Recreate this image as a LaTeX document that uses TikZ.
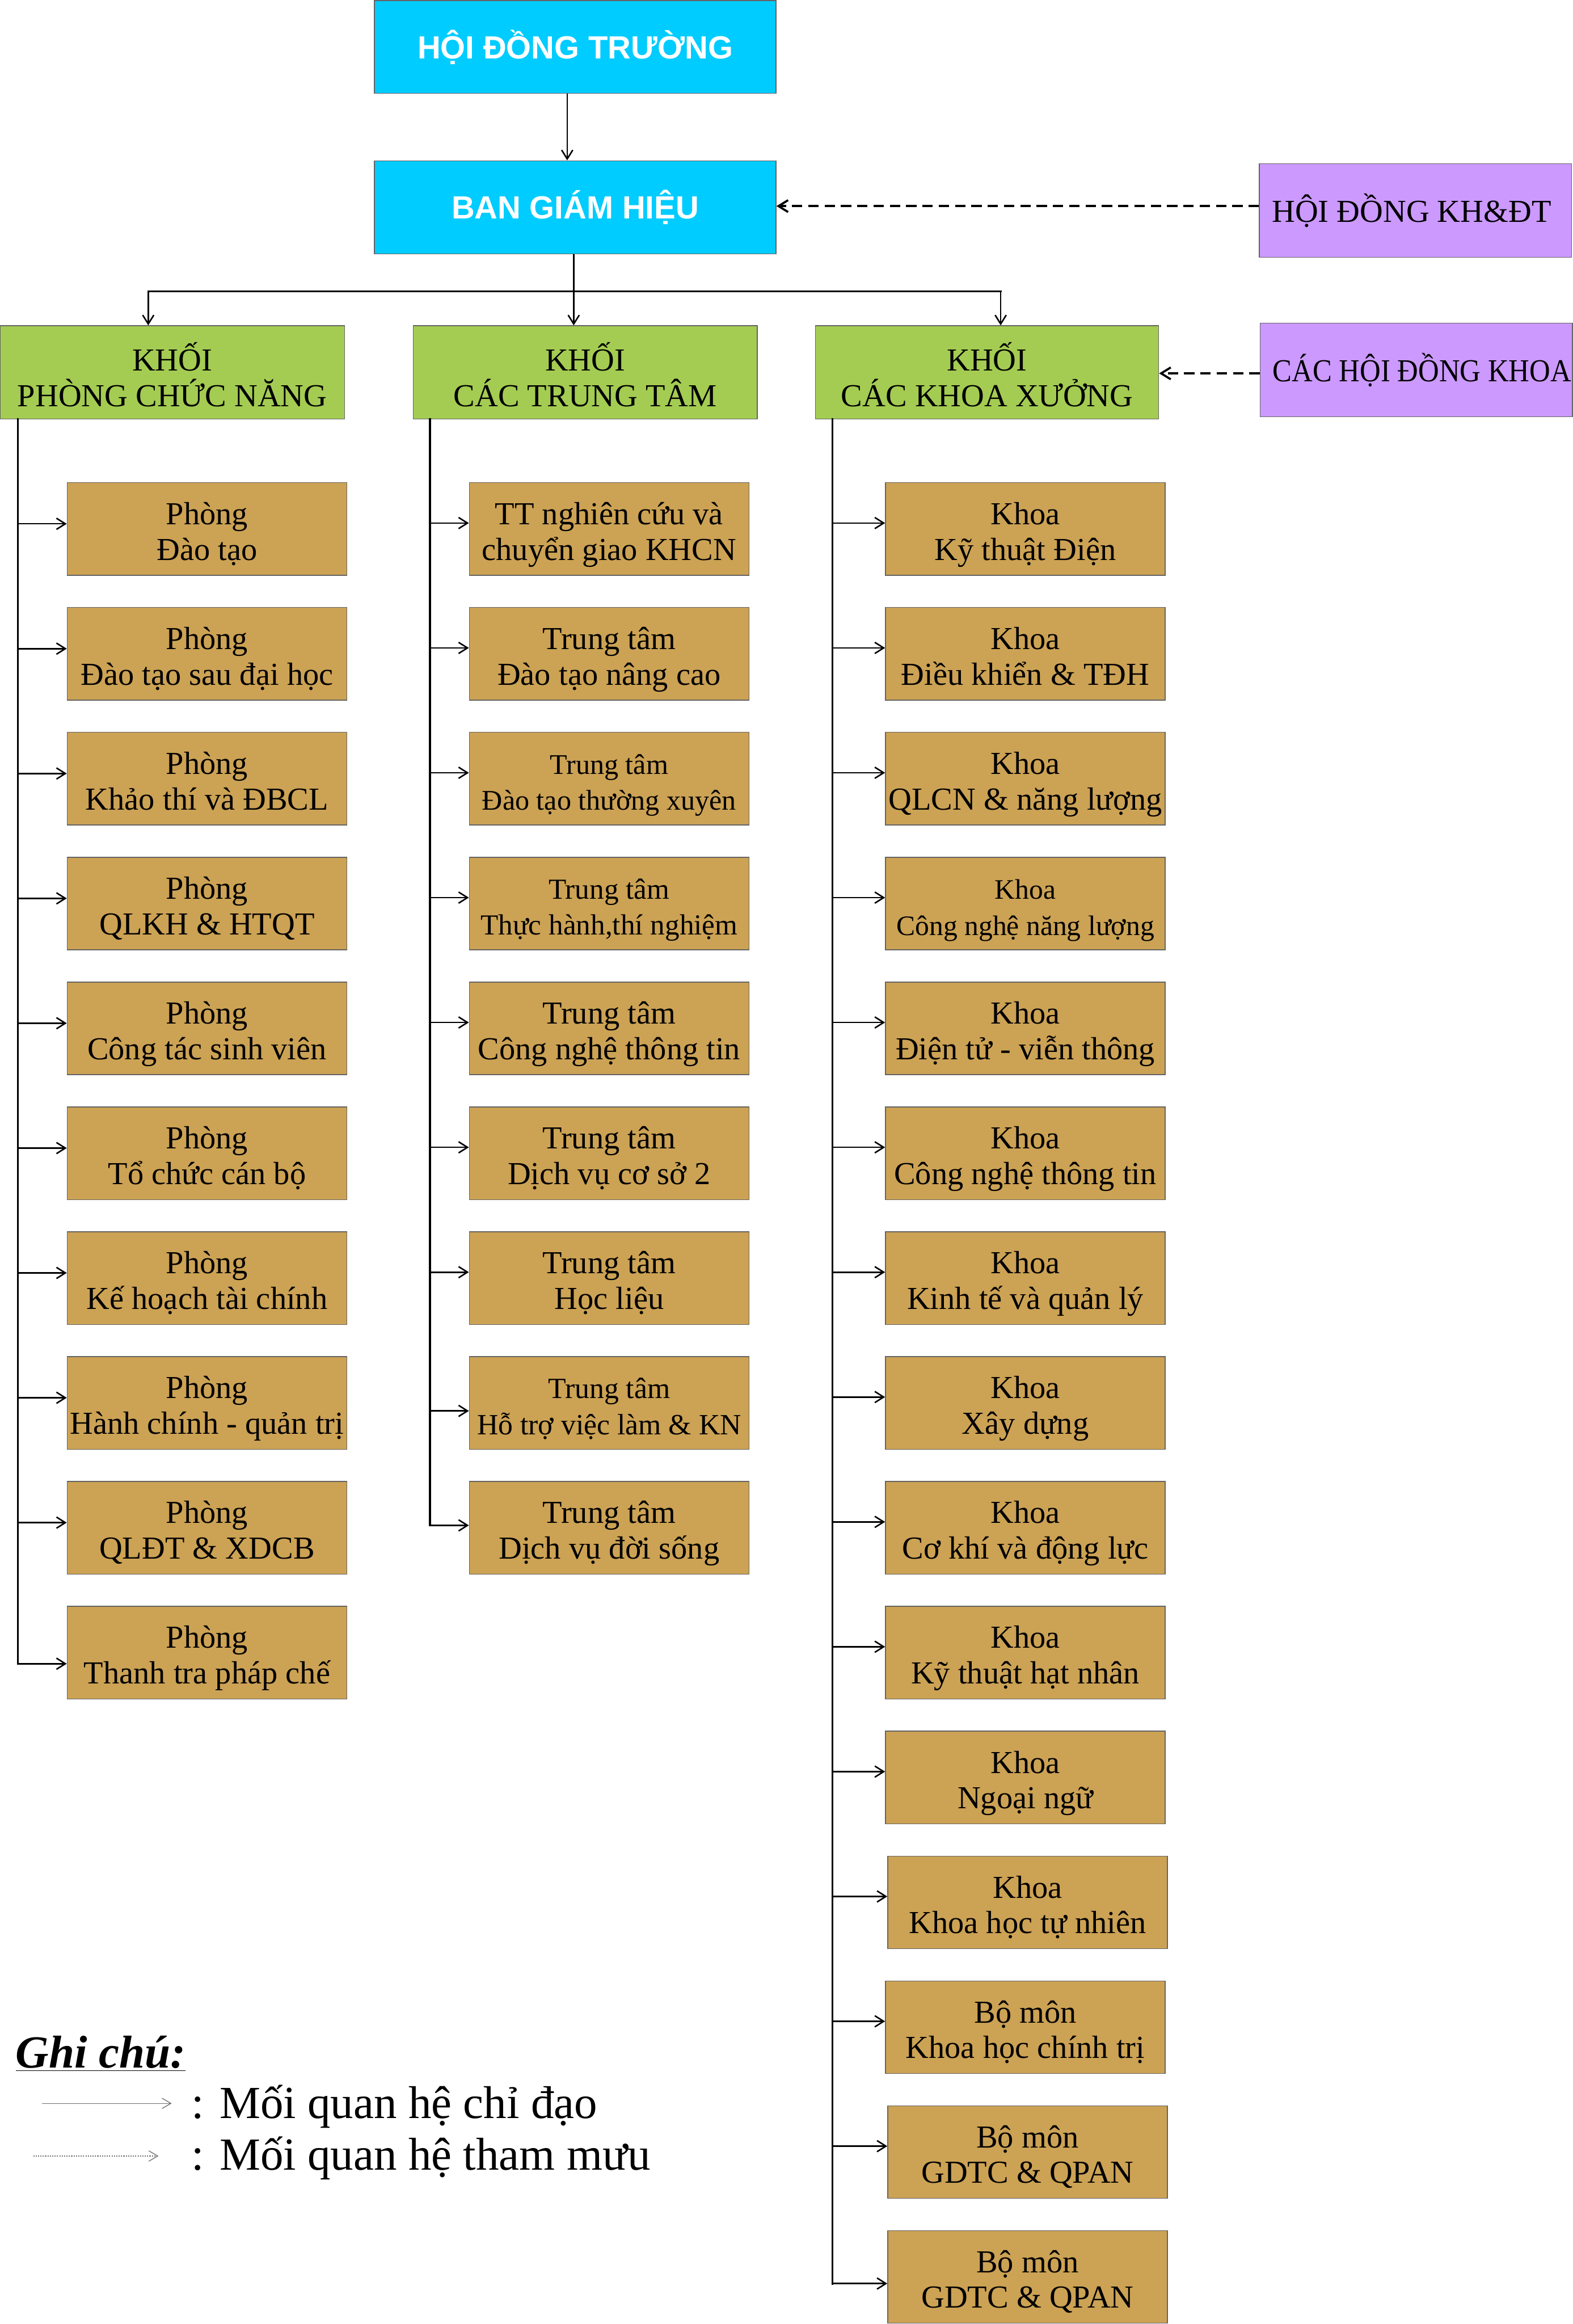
\documentclass[tikz,border=0pt]{standalone}
\usepackage{fontspec}
\setmainfont{Liberation Serif}
\setsansfont{Liberation Sans}
\usepackage{graphicx}
\usetikzlibrary{arrows.meta,calc}
\definecolor{cyanc}{RGB}{0,204,255}
\definecolor{greenc}{RGB}{164,204,82}
\definecolor{brownc}{RGB}{204,162,84}
\definecolor{purplec}{RGB}{204,153,255}
\definecolor{bordc}{RGB}{100,100,100}
\definecolor{legc}{RGB}{110,110,110}
\newcommand\brtext[2]{\rule{0pt}{24pt}#1\\#2\rule[-6pt]{0pt}{6pt}}
\newcommand\grtext[2]{\rule{0pt}{27.4pt}#1\\#2\rule[-5.4pt]{0pt}{5.4pt}}
\begin{document}
\begin{tikzpicture}[x=1pt,y=-1pt,
  boxbase/.style={rectangle, draw=bordc, line width=0.55pt, inner sep=0pt, align=center},
  cyanbox/.style={boxbase, fill=cyanc, minimum width=271pt, minimum height=62.7pt, text=white,
     font=\sffamily\bfseries\fontsize{21.6}{24}\selectfont},
  greenbox/.style={boxbase, fill=greenc, minimum width=232pt, minimum height=62.9pt,
     font=\fontsize{21.6}{24}\selectfont},
  brownbox/.style={boxbase, fill=brownc, minimum width=188.7pt, minimum height=62.5pt,
     font=\fontsize{21.6}{24}\selectfont},
  purplebox/.style={boxbase, fill=purplec, minimum width=210.6pt, minimum height=63pt,
     font=\fontsize{21.6}{24}\selectfont},
  trunk/.style={line width=1.4pt, line cap=rect},
  busline/.style={line width=1.4pt, line cap=rect},
  arr/.style={line width=1pt, -{Straight Barb[length=6pt,width=7.5pt]}},
  dasharr/.style={line width=1.4pt, dash pattern=on 7pt off 4pt, -{Straight Barb[length=6.5pt,width=8pt]}},
  legarr/.style={line width=0.5pt, draw=legc, -{Straight Barb[length=6pt,width=7pt]}},
  legtext/.style={anchor=base west, inner sep=0pt, font=\fontsize{31}{36}\selectfont}
]
\path[use as bounding box] (0,0) rectangle (1061,1567.3);

% top
\node[cyanbox] (hdt) at (388,31.7) {HỘI ĐỒNG TRƯỜNG};
\node[cyanbox, minimum height=62.9pt] (bgh) at (388,139.85) {BAN GIÁM HIỆU};
\node[purplebox] (hkh) at (954.8,142) {\makebox[193.6pt][l]{HỘI ĐỒNG KH\&ĐT}};
\node[purplebox] (hdk) at (955.3,249.5) {\makebox[193.6pt][l]{\scalebox{0.9}[1]{CÁC HỘI ĐỒNG KHOA}}};

% green
\node[greenbox, minimum width=232.4pt] (kpcn) at (116.2,251.15) {\grtext{KHỐI}{PHÒNG CHỨC NĂNG}};
\node[greenbox] (kctt) at (394.8,251.15) {\grtext{KHỐI}{CÁC TRUNG TÂM}};
\node[greenbox, minimum width=231.6pt] (kkx) at (665.8,251.15) {\grtext{KHỐI}{CÁC KHOA XƯỞNG}};

% top connectors
\coordinate (topx) at (382.6,0);
\draw[arr] (hdt.south -| topx) -- (bgh.north -| topx);
\coordinate (busL) at (100,196.5);
\coordinate (busM) at (387,196.5);
\coordinate (busR) at (675,196.5);
\draw[busline] (busL) -- (busR);
\draw[arr] (bgh.south -| busM) -- (busM |- kctt.north);
\draw[arr] (busL) -- (busL |- kpcn.north);
\draw[arr] (busR) -- (busR |- kkx.north);
\coordinate (d1) at (700,139);
\coordinate (d2) at (800,251.8);
\draw[dasharr] (hkh.west |- d1) -- (bgh.east |- d1);
\draw[dasharr] (hdk.west |- d2) -- (kkx.east |- d2);

% column 1
\node[brownbox] (p0) at (139.65,356.75) {\brtext{Phòng}{Đào tạo}};
\node[brownbox] (p1) at (139.65,440.95) {\brtext{Phòng}{Đào tạo sau đại học}};
\node[brownbox] (p2) at (139.65,525.15) {\brtext{Phòng}{Khảo thí và ĐBCL}};
\node[brownbox] (p3) at (139.65,609.35) {\brtext{Phòng}{QLKH \& HTQT}};
\node[brownbox] (p4) at (139.65,693.55) {\brtext{Phòng}{Công tác sinh viên}};
\node[brownbox] (p5) at (139.65,777.75) {\brtext{Phòng}{Tổ chức cán bộ}};
\node[brownbox] (p6) at (139.65,861.95) {\brtext{Phòng}{Kế hoạch tài chính}};
\node[brownbox] (p7) at (139.65,946.15) {\brtext{Phòng}{Hành chính - quản trị}};
\node[brownbox] (p8) at (139.65,1030.35) {\brtext{Phòng}{QLĐT \& XDCB}};
\node[brownbox] (p9) at (139.65,1114.55) {\brtext{Phòng}{Thanh tra pháp chế}};

\coordinate (a0) at (12,353.25);
\coordinate (a1) at (12,437.45);
\coordinate (a2) at (12,521.65);
\coordinate (a3) at (12,605.85);
\coordinate (a4) at (12,690.05);
\coordinate (a5) at (12,774.25);
\coordinate (a6) at (12,858.45);
\coordinate (a7) at (12,942.65);
\coordinate (a8) at (12,1026.85);
\coordinate (a9) at (12,1122);
\draw[trunk] (kpcn.south -| a0) -- (a9);
\foreach \i in {0,...,9} {\draw[arr] (a\i) -- (a\i -| p\i.west);}

% column 2
\node[brownbox] (t0) at (410.9,356.75) {\brtext{TT nghiên cứu và}{chuyển giao KHCN}};
\node[brownbox] (t1) at (410.9,440.95) {\brtext{Trung tâm}{Đào tạo nâng cao}};
\node[brownbox, font=\fontsize{19.2}{24}\selectfont] (t2) at (410.9,525.15) {\brtext{Trung tâm}{Đào tạo thường xuyên}};
\node[brownbox, font=\fontsize{19.6}{24}\selectfont] (t3) at (410.9,609.35) {\brtext{Trung tâm}{Thực hành,thí nghiệm}};
\node[brownbox] (t4) at (410.9,693.55) {\brtext{Trung tâm}{Công nghệ thông tin}};
\node[brownbox] (t5) at (410.9,777.75) {\brtext{Trung tâm}{Dịch vụ cơ sở 2}};
\node[brownbox] (t6) at (410.9,861.95) {\brtext{Trung tâm}{Học liệu}};
\node[brownbox, font=\fontsize{19.8}{24.5}\selectfont] (t7) at (410.9,946.15) {\brtext{Trung tâm}{Hỗ trợ việc làm \& KN}};
\node[brownbox] (t8) at (410.9,1030.35) {\brtext{Trung tâm}{Dịch vụ đời sống}};

\coordinate (b0) at (290,352.75);
\coordinate (b1) at (290,436.95);
\coordinate (b2) at (290,521.15);
\coordinate (b3) at (290,605.35);
\coordinate (b4) at (290,689.55);
\coordinate (b5) at (290,773.75);
\coordinate (b6) at (290,857.95);
\coordinate (b7) at (290,951.5);
\coordinate (b8) at (290,1028.7);
\draw[trunk] (kctt.south -| b0) -- (b8);
\foreach \i in {0,...,8} {\draw[arr] (b\i) -- (b\i -| t\i.west);}

% column 3
\node[brownbox] (k0) at (691.65,356.75) {\brtext{Khoa}{Kỹ thuật Điện}};
\node[brownbox] (k1) at (691.65,440.95) {\brtext{Khoa}{Điều khiển \& TĐH}};
\node[brownbox] (k2) at (691.65,525.15) {\brtext{Khoa}{QLCN \& năng lượng}};
\node[brownbox, font=\fontsize{19.0}{24.5}\selectfont] (k3) at (691.65,609.35) {\brtext{Khoa}{Công nghệ năng lượng}};
\node[brownbox] (k4) at (691.65,693.55) {\brtext{Khoa}{Điện tử - viễn thông}};
\node[brownbox] (k5) at (691.65,777.75) {\brtext{Khoa}{Công nghệ thông tin}};
\node[brownbox] (k6) at (691.65,861.95) {\brtext{Khoa}{Kinh tế và quản lý}};
\node[brownbox] (k7) at (691.65,946.15) {\brtext{Khoa}{Xây dựng}};
\node[brownbox] (k8) at (691.65,1030.35) {\brtext{Khoa}{Cơ khí và động lực}};
\node[brownbox] (k9) at (691.65,1114.55) {\brtext{Khoa}{Kỹ thuật hạt nhân}};
\node[brownbox] (k10) at (691.65,1198.75) {\brtext{Khoa}{Ngoại ngữ}};
\node[brownbox] (k11) at (693.15,1282.95) {\brtext{Khoa}{Khoa học tự nhiên}};
\node[brownbox] (k12) at (691.65,1367.15) {\brtext{Bộ môn}{Khoa học chính trị}};
\node[brownbox] (k13) at (693.15,1451.35) {\brtext{Bộ môn}{GDTC \& QPAN}};
\node[brownbox] (k14) at (693.15,1535.55) {\brtext{Bộ môn}{GDTC \& QPAN}};

\coordinate (c0) at (561.5,352.75);
\coordinate (c1) at (561.5,436.95);
\coordinate (c2) at (561.5,521.15);
\coordinate (c3) at (561.5,605.35);
\coordinate (c4) at (561.5,689.55);
\coordinate (c5) at (561.5,773.75);
\coordinate (c6) at (561.5,857.95);
\coordinate (c7) at (561.5,942.15);
\coordinate (c8) at (561.5,1026.35);
\coordinate (c9) at (561.5,1110.55);
\coordinate (c10) at (561.5,1194.75);
\coordinate (c11) at (561.5,1278.95);
\coordinate (c12) at (561.5,1363.15);
\coordinate (c13) at (561.5,1447.35);
\coordinate (c14) at (561.5,1540);
\draw[trunk] (kkx.south -| c0) -- (c14);
\foreach \i in {0,...,14} {\draw[arr] (c\i) -- (c\i -| k\i.west);}

% legend
\node[anchor=base west, inner sep=0pt, font=\fontsize{31}{36}\selectfont\bfseries\itshape] (ghichu) at (10.5,1394.6) {\underline{Ghi chú:}};
\node[legtext] (leg1) at (129,1428.5) {: Mối quan hệ chỉ đạo};
\node[legtext] (leg2) at (129,1463.4) {: Mối quan hệ tham mưu};
\coordinate (l1s) at (28.4,1418.5);
\coordinate (l1e) at (115.8,1418.5);
\coordinate (l2s) at (22.4,1454);
\coordinate (l2e) at (106.9,1454);
\draw[legarr] (l1s) -- (l1e);
\draw[legarr, dash pattern=on 0.8pt off 0.8pt] (l2s) -- (l2e);
\end{tikzpicture}
\end{document}
